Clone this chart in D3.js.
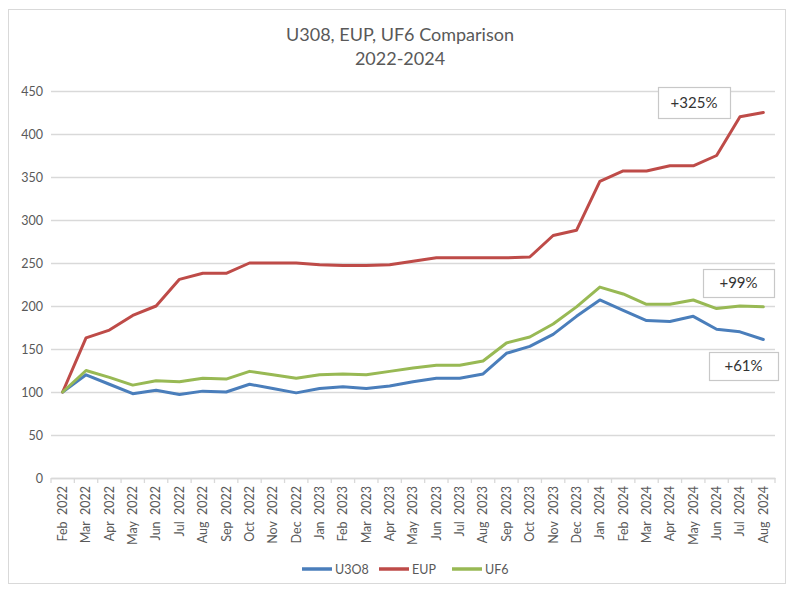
<!DOCTYPE html>
<html>
<head>
<meta charset="utf-8">
<script src="https://cdn.jsdelivr.net/npm/d3@7"></script>
<style>
  body { margin: 0; background: #fff; }
  text { font-family: Lato, "Open Sans", sans-serif; }
</style>
</head>
<body>
<svg width="800" height="595"></svg>
<script>
// months on the category axis
const months = ["Feb 2022","Mar 2022","Apr 2022","May 2022","Jun 2022","Jul 2022","Aug 2022","Sep 2022",
  "Oct 2022","Nov 2022","Dec 2022","Jan 2023","Feb 2023","Mar 2023","Apr 2023","May 2023","Jun 2023",
  "Jul 2023","Aug 2023","Sep 2023","Oct 2023","Nov 2023","Dec 2023","Jan 2024","Feb 2024","Mar 2024",
  "Apr 2024","May 2024","Jun 2024","Jul 2024","Aug 2024"];

// indexed to Feb 2022 = 100
const u3o8 = [100,120,109,98,102,97,101,100,109,104,99,104,106,104,107,112,116,116,121,145,153,167,188,207,195,183,182,188,173,170,161];
const eup  = [100,163,172,189,200,231,238,238,250,250,250,248,247,247,248,252,256,256,256,256,257,282,288,345,357,357,363,363,375,420,425];
const uf6  = [100,125,117,108,113,112,116,115,124,120,116,120,121,120,124,128,131,131,136,157,164,179,199,222,214,202,202,207,197,200,199];

const yTicks = [0,50,100,150,200,250,300,350,400,450];

const seriesNames = ["U3O8","EUP","UF6"];
const seriesColors = ["#4a7ebb","#be4b48","#98b954"];
const seriesData = [u3o8, eup, uf6];

// end-of-series change labels
const notes = [
  {text: "+325%", x0: 658, y0: 87, w: 72, h: 31},
  {text: "+99%",  x0: 703, y0: 269, w: 71, h: 28},
  {text: "+61%",  x0: 709, y0: 352, w: 69, h: 28}
];

const svg = d3.select("svg");
const grey = "#595959";

// outer chart frame
svg.append("rect")
  .attr("x", 8.5).attr("y", 9.5).attr("width", 777).attr("height", 574)
  .attr("fill", "#fff").attr("stroke", "#d9d9d9").attr("stroke-width", 1);

const plotL = 51, plotR = 775, plotT = 91, plotB = 478;

const x = d3.scaleBand().domain(months).range([plotL, plotR]);
const y = d3.scaleLinear().domain([0, 450]).range([plotB, plotT]);

// title
svg.append("text").attr("x", 400).attr("y", 41).attr("text-anchor", "middle")
  .attr("font-size", 18).attr("fill", grey).text("U308, EUP, UF6 Comparison");
svg.append("text").attr("x", 400).attr("y", 65).attr("text-anchor", "middle")
  .attr("font-size", 18).attr("fill", grey).text("2022-2024");

// gridlines + y labels
const yAxis = svg.append("g").attr("transform", `translate(${plotL},0)`)
  .call(d3.axisLeft(y).tickValues(yTicks).tickSize(-(plotR - plotL)).tickPadding(8));
yAxis.select(".domain").remove();
yAxis.selectAll(".tick line").attr("stroke", "#d9d9d9").attr("stroke-width", 1.3);
yAxis.selectAll(".tick text").attr("fill", grey).attr("font-size", 12.5)
  .attr("font-family", "Lato, 'Open Sans', sans-serif");

// x axis with ticks between categories
const xAxis = svg.append("g").attr("transform", `translate(0,${plotB})`)
  .call(d3.axisBottom(x).tickSize(0).tickPadding(0));
xAxis.select(".domain").attr("stroke", "#d9d9d9").attr("stroke-width", 1.3);
xAxis.selectAll(".tick text")
  .attr("fill", grey).attr("font-size", 12.5)
  .attr("font-family", "Lato, 'Open Sans', sans-serif")
  .attr("text-anchor", "end")
  .attr("dy", "0.35em")
  .attr("transform", "translate(0,8) rotate(-90)")
  .attr("x", 0).attr("y", 0)
  .text(d => d.replace(" ", "\u00a0\u00a0"));
xAxis.selectAll(".bnd").data(d3.range(months.length + 1)).join("line")
  .attr("x1", i => plotL + i * x.step()).attr("x2", i => plotL + i * x.step())
  .attr("y1", 0).attr("y2", 5).attr("stroke", "#d9d9d9").attr("stroke-width", 1.3);

// series lines
const line = d3.line().x((d, i) => x(months[i]) + x.bandwidth() / 2).y(d => y(d));
seriesData.forEach((s, k) => {
  svg.append("path").datum(s).attr("d", line)
    .attr("fill", "none").attr("stroke", seriesColors[k])
    .attr("stroke-width", 3).attr("stroke-linejoin", "round").attr("stroke-linecap", "round");
});

// annotation boxes
notes.forEach(n => {
  svg.append("rect").attr("x", n.x0 + 0.5).attr("y", n.y0 + 0.5).attr("width", n.w).attr("height", n.h)
    .attr("fill", "#fff").attr("stroke", "#c8c8c8").attr("stroke-width", 1.2);
  svg.append("text").attr("x", n.x0 + n.w / 2).attr("y", n.y0 + n.h / 2 + 5)
    .attr("text-anchor", "middle").attr("font-size", 15).attr("fill", "#333").text(n.text);
});

// legend
const legendX = [302, 379, 452];
seriesNames.forEach((name, k) => {
  const g = svg.append("g").attr("transform", `translate(${legendX[k]},569)`);
  g.append("line").attr("x1", 0).attr("x2", 30).attr("stroke", seriesColors[k]).attr("stroke-width", 3.5);
  g.append("text").attr("x", 33).attr("y", 4.5).attr("font-size", 12.5).attr("fill", grey).text(name);
});
</script>
</body>
</html>
